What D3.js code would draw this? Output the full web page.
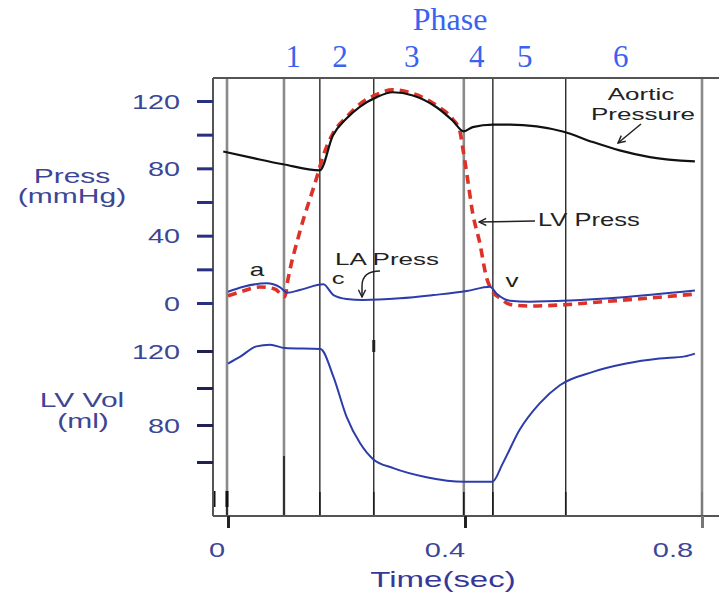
<!DOCTYPE html>
<html><head><meta charset="utf-8">
<script src="https://cdn.jsdelivr.net/npm/d3@7"></script>
<style>html,body{margin:0;padding:0;background:#fff;}svg{display:block;}</style>
</head><body>
<svg id="chart" width="719" height="596"></svg>
<script>
// ---------- data ----------
const phaseBounds = [0, 0.0945, 0.155, 0.246, 0.398, 0.447, 0.570, 0.80];
const phaseNames = ["1", "2", "3", "4", "5", "6"];
const phaseLabelT = [0.11, 0.189, 0.31, 0.42, 0.501, 0.663];
const pressTicks = [0, 20, 40, 60, 80, 100, 120];
const pressLabels = [0, 40, 80, 120];
const volTicks = [60, 80, 100, 120];
const volLabels = [80, 120];
const timeTicks = [0, 0.4, 0.8];

const aorticT = [-0.008, 0.045, 0.093, 0.155, 0.177, 0.2, 0.223, 0.251, 0.278, 0.312, 0.352, 0.379, 0.398, 0.413, 0.447, 0.476, 0.521, 0.565, 0.616, 0.661, 0.712, 0.788];
const aorticP = [90, 85.9, 82.4, 78.8, 99.5, 109.6, 116.7, 122.3, 125.2, 123.3, 116.3, 108.4, 101.9, 104.5, 106, 106, 104.9, 101.9, 95.6, 90.7, 86.7, 84.1];

const lvT = [0, 0.025, 0.054, 0.079, 0.096, 0.101, 0.121, 0.15, 0.16, 0.177, 0.2, 0.223, 0.251, 0.278, 0.312, 0.352, 0.379, 0.391, 0.396, 0.403, 0.413, 0.425, 0.436, 0.445, 0.459, 0.476, 0.509, 0.56, 0.627, 0.712, 0.788];
const lvP = [4.3, 7.1, 9.5, 8.3, 3.7, 13.6, 42, 74.8, 86.7, 100.7, 110.4, 118.3, 123.9, 126.6, 124.4, 117.3, 109.3, 102.5, 92.6, 77, 53.3, 35.6, 15.6, 7.7, 3, -0.9, -1.8, -1.2, 0.6, 3, 5.3];

const laT = [0, 0.026, 0.065, 0.088, 0.1, 0.121, 0.161, 0.178, 0.2, 0.228, 0.29, 0.346, 0.403, 0.442, 0.453, 0.476, 0.509, 0.577, 0.661, 0.788];
const laP = [6.7, 9.7, 11.7, 9.3, 6.1, 7.7, 11.1, 4.7, 2.4, 1.8, 2.8, 4.7, 7.1, 9.7, 5.7, 1.4, 0.8, 1.5, 3.3, 7.4];

const volT = [0, 0.02, 0.048, 0.071, 0.096, 0.156, 0.178, 0.2, 0.223, 0.245, 0.279, 0.335, 0.398, 0.446, 0.464, 0.492, 0.526, 0.56, 0.616, 0.672, 0.728, 0.771, 0.788];
const volV = [113.2, 116.8, 122.5, 123.4, 121.6, 121.1, 106, 84.5, 70.1, 61.5, 56.7, 51.8, 49.3, 49.3, 59.4, 77.3, 91.7, 101.5, 108.7, 113.2, 115.9, 117.1, 118.6];

// ---------- setup ----------
const SANS = "'Liberation Sans', Arial, sans-serif";
const SERIF = "'Liberation Serif', 'Times New Roman', serif";
const svg = d3.select("#chart");
svg.append("rect").attr("width", 719).attr("height", 596).attr("fill", "#fff");

const x = d3.scaleLinear().domain([0, 0.8]).range([228, 702]);
const xLab = d3.scaleLinear().domain([0, 0.8]).range([217, 673]);
const yP = d3.scaleLinear().domain([0, 120]).range([303, 101]);
const yV = d3.scaleLinear().domain([80, 120]).range([425, 351]);
const plotTop = 78, plotBottom = 516, plotLeft = 213;

function stext(sel, px, py, str, size, fill, anchor, sx, family) {
  return sel.append("text")
    .attr("transform", `translate(${px},${py}) scale(${sx},1)`)
    .attr("text-anchor", anchor)
    .style("font-family", family || SANS)
    .style("font-size", size + "px")
    .attr("fill", fill)
    .text(str);
}

// marker
const defs = svg.append("defs");
defs.append("marker").attr("id", "arr").attr("viewBox", "0 0 10 10")
  .attr("refX", 9).attr("refY", 5).attr("markerWidth", 9).attr("markerHeight", 9)
  .attr("markerUnits", "userSpaceOnUse").attr("orient", "auto")
  .append("path").attr("d", "M1,1 L9,5 L1,9").attr("fill", "none").attr("stroke", "#222").attr("stroke-width", 1.6);

// ---------- phase lines ----------
const grayIdx = [0, 1, 4, 7];
const lines = svg.append("g");
phaseBounds.forEach((t, i) => {
  const gray = grayIdx.includes(i);
  const lx = x(t) - (i === 0 ? 1 : 0);
  lines.append("line").attr("x1", lx).attr("x2", lx)
    .attr("y1", plotTop).attr("y2", plotBottom)
    .attr("stroke", gray ? "#8a8a8a" : "#2a2a2a").attr("stroke-width", gray ? 2.6 : 1.4);
  lines.append("line").attr("x1", lx).attr("x2", lx)
    .attr("y1", i === 1 ? 456 : 492).attr("y2", plotBottom)
    .attr("stroke", i === 7 ? "#777" : "#1a1a1a").attr("stroke-width", 1.6);
});
lines.append("line").attr("x1", x(phaseBounds[3])).attr("x2", x(phaseBounds[3]))
  .attr("y1", 340).attr("y2", 352).attr("stroke", "#222").attr("stroke-width", 3);
lines.append("line").attr("x1", plotLeft + 1).attr("x2", plotLeft + 1).attr("y1", 491).attr("y2", 507)
  .attr("stroke", "#111").attr("stroke-width", 3);
lines.append("line").attr("x1", x(0) - 1).attr("x2", x(0) - 1).attr("y1", 491).attr("y2", 507)
  .attr("stroke", "#111").attr("stroke-width", 3);

// frame
const frame = svg.append("g").attr("stroke", "#555").attr("stroke-width", 2);
frame.append("line").attr("x1", plotLeft).attr("x2", 719).attr("y1", plotTop).attr("y2", plotTop);
frame.append("line").attr("x1", plotLeft).attr("x2", plotLeft).attr("y1", plotTop).attr("y2", plotBottom);
frame.append("line").attr("x1", plotLeft).attr("x2", 719).attr("y1", plotBottom).attr("y2", plotBottom);

// ---------- axes ----------
const LBL = "#3c4696";
function styleY(g, tickColor) {
  g.select(".domain").remove();
  g.selectAll(".tick line").attr("stroke", tickColor).attr("stroke-width", 3);
  g.selectAll(".tick text").attr("x", -33 / 1.44).attr("dy", "0.36em")
    .attr("transform", "scale(1.44,1)").attr("fill", LBL)
    .style("font-family", SANS).style("font-size", "20px");
}
const gP = svg.append("g").attr("transform", `translate(${plotLeft},0)`)
  .call(d3.axisLeft(yP).tickValues(pressTicks).tickSize(16).tickFormat(d => pressLabels.includes(d) ? d : ""));
styleY(gP, "#2a2f80");
const gV = svg.append("g").attr("transform", `translate(${plotLeft},0)`)
  .call(d3.axisLeft(yV).tickValues(volTicks).tickSize(16).tickFormat(d => volLabels.includes(d) ? d : ""));
styleY(gV, "#1f2150");

const gX = svg.append("g").attr("transform", `translate(0,${plotBottom})`)
  .call(d3.axisBottom(x).tickValues(timeTicks).tickSize(12).tickFormat(""));
gX.select(".domain").remove();
gX.selectAll(".tick line").attr("stroke", (d, i) => i === 2 ? "#777" : "#222").attr("stroke-width", 3);
timeTicks.forEach(t => stext(svg, xLab(t), 557, String(t), 20, LBL, "middle", 1.45));

// axis titles
stext(svg, 72, 183, "Press", 20, LBL, "middle", 1.5);
stext(svg, 72, 203, "(mmHg)", 20, LBL, "middle", 1.5);
stext(svg, 82, 407, "LV  Vol", 20, LBL, "middle", 1.5);
stext(svg, 83, 428, "(ml)", 20, LBL, "middle", 1.5);
stext(svg, 443, 587, "Time(sec)", 22, "#37379a", "middle", 1.5);

// phase labels
stext(svg, 450, 30, "Phase", 32, "#3a62f0", "middle", 1, SERIF);
phaseNames.forEach((n, i) => {
  stext(svg, x(phaseLabelT[i]), 67, n, 31, "#3a62f0", "middle", 1, SERIF);
});

// ---------- curves ----------
const lineP = d3.line().x(d => x(d[0])).y(d => yP(d[1])).curve(d3.curveMonotoneX);
const lineV = d3.line().x(d => x(d[0])).y(d => yV(d[1])).curve(d3.curveMonotoneX);
svg.append("path").datum(lvT.map((t, i) => [t, lvP[i]])).attr("d", lineP)
  .attr("fill", "none").attr("stroke", "#dc3228").attr("stroke-width", 3.6).attr("stroke-dasharray", "9,6");
svg.append("path").datum(aorticT.map((t, i) => [t, aorticP[i]])).attr("d", lineP)
  .attr("fill", "none").attr("stroke", "#111").attr("stroke-width", 2.2);
svg.append("path").datum(laT.map((t, i) => [t, laP[i]])).attr("d", lineP)
  .attr("fill", "none").attr("stroke", "#2c3caa").attr("stroke-width", 2);
svg.append("path").datum(volT.map((t, i) => [t, volV[i]])).attr("d", lineV)
  .attr("fill", "none").attr("stroke", "#2c3caa").attr("stroke-width", 2);

// ---------- annotations ----------
const ANN = "#222";
stext(svg, 641, 100, "Aortic", 17, ANN, "middle", 1.53);
stext(svg, 643, 120, "Pressure", 17, ANN, "middle", 1.53);
svg.append("line").attr("x1", 641).attr("y1", 124).attr("x2", 618).attr("y2", 143)
  .attr("stroke", ANN).attr("stroke-width", 1.5).attr("marker-end", "url(#arr)");
stext(svg, 538, 226, "LV Press", 18, ANN, "start", 1.42);
svg.append("line").attr("x1", 535).attr("y1", 221).attr("x2", 479).attr("y2", 222)
  .attr("stroke", ANN).attr("stroke-width", 1.5).attr("marker-end", "url(#arr)");
stext(svg, 335, 264.5, "LA Press", 17, ANN, "start", 1.53);
svg.append("path").attr("d", "M380,271 C368,271 362,276 362,286 L362,297")
  .attr("fill", "none").attr("stroke", ANN).attr("stroke-width", 1.5).attr("marker-end", "url(#arr)");
stext(svg, 257, 276, "a", 18, ANN, "middle", 1.45);
stext(svg, 338, 284, "c", 17, ANN, "middle", 1.5);
stext(svg, 512, 287, "v", 18, ANN, "middle", 1.45);
</script>
</body></html>
